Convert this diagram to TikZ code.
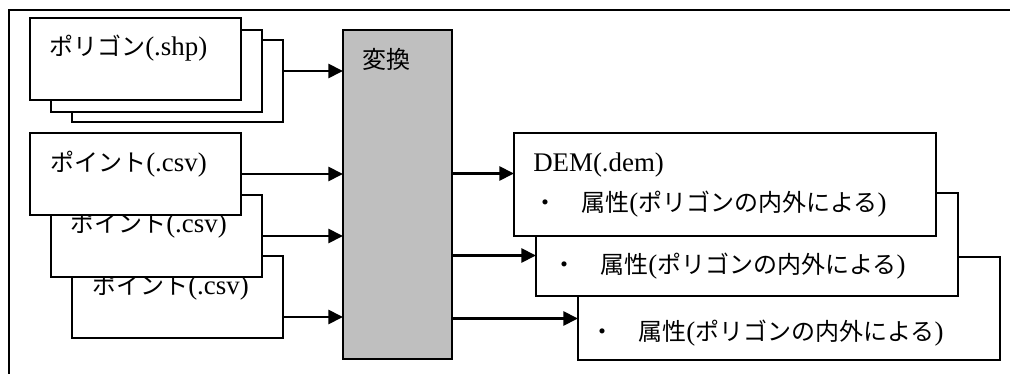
\documentclass[tikz,border=0pt]{standalone}
\usepackage{fontspec}
\setmainfont[Scale=1.12]{Liberation Serif}
\newfontfamily\jp{Noto Sans CJK JP}
\usepackage{tikz}
\usetikzlibrary{arrows.meta, positioning}
\usepackage{xcolor}
\definecolor{ConvGray}{RGB}{191,191,191}
\newcommand{\polyattr}{{\jp ・　属性}({\jp ポリゴンの内外による})}

\begin{document}
\begin{tikzpicture}[
          x=0.75pt, y=-0.75pt,
          srcbox/.style={rectangle, draw, line width=1pt, fill=white, inner sep=0pt, outer sep=0pt, anchor=north west, minimum width=158.25pt, minimum height=61.5pt},
          dembox/.style={srcbox, minimum width=316.5pt, minimum height=77.25pt},
          convbox/.style={srcbox, fill=ConvGray, minimum width=81.75pt, minimum height=246.75pt},
          boxtext/.style={anchor=base west, inner sep=0pt, font=\fontsize{18pt}{20pt}\selectfont},
          arrow/.style={-{Triangle[length=11pt, width=10.5pt]}, line width=2pt}
        ]
          \useasboundingbox (0,0) rectangle (1010,374);
          \draw[line width=1.2pt] (1010,10) -- (9,10) -- (9,374);

          % polygon stack
          \node (shpback) [srcbox] at (72,40) {};
          \node (shpmid) [srcbox] at (51,30) {};
          \node (shp) [srcbox] at (30,18) {};
          \node (shptext) [boxtext] at ([shift={(19,38)}]shp.north west) {{\jp ポリゴン}(.shp)};

          % point stack
          \node (csvback) [srcbox] at (72,256) {};
          \node (csvbacktext) [boxtext] at ([shift={(20,38)}]csvback.north west) {{\jp ポイント}(.csv)};
          \node (csvmid) [srcbox] at (51,195) {};
          \node (csvmidtext) [boxtext] at ([shift={(19,38)}]csvmid.north west) {{\jp ポイント}(.csv)};
          \node (csv) [srcbox] at (30,133) {};
          \node (csvtext) [boxtext] at ([shift={(20,39)}]csv.north west) {{\jp ポイント}(.csv)};

          % conversion
          \node (conv) [convbox] at (343,30) {};
          \node (convtext) [boxtext] at ([shift={(19,39)}]conv.north west) {\jp 変換};

          % DEM stack
          \node (demback) [dembox] at (578,257) {};
          \node (dembacktext) [boxtext] at ([shift={(12,83)}]demback.north west) {\polyattr};
          \node (demmid) [dembox] at (536,193) {};
          \node (demmidtext) [boxtext] at ([shift={(16,80)}]demmid.north west) {\polyattr};
          \node (dem) [dembox] at (514,133) {};
          \node (demtext) [boxtext] at ([shift={(19,39)}]dem.north west) {DEM(.dem)};
          \node (demattr) [boxtext] at ([shift={(19,78)}]dem.north west) {\polyattr};

          % inputs
          \coordinate (shpout) at ([shift={(0,-10)}]shpback.east);
          \coordinate (csvbackout) at ([shift={(0,20)}]csvback.east);
          \draw[arrow] (shpout) -- (shpout -| conv.west);
          \draw[arrow] (csv.east) -- (csv.east -| conv.west);
          \draw[arrow] (csvmid.east) -- (csvmid.east -| conv.west);
          \draw[arrow] (csvbackout) -- (csvbackout -| conv.west);

          % outputs
          \coordinate (demin) at ([shift={(0,-11)}]dem.west);
          \coordinate (demmidin) at ([shift={(0,11)}]demmid.west);
          \coordinate (dembackin) at ([shift={(0,10)}]demback.west);
          \draw[arrow] (conv.east |- demin) -- (demin);
          \draw[arrow] (conv.east |- demmidin) -- (demmidin);
          \draw[arrow] (conv.east |- dembackin) -- (dembackin);
        \end{tikzpicture}
\end{document}
